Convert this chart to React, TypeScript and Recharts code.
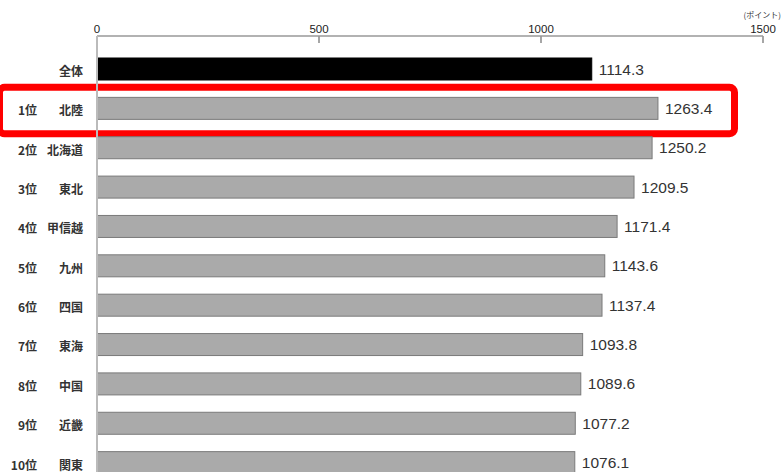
import React from "react";
import { BarChart, Bar, XAxis, YAxis, LabelList } from "recharts";

const REGIONS = ["全体", "北陸", "北海道", "東北", "甲信越", "九州", "四国", "東海", "中国", "近畿", "関東"];
const RANKS = ["", "1位", "2位", "3位", "4位", "5位", "6位", "7位", "8位", "9位", "10位"];
const SCORES = [1114.3, 1263.4, 1250.2, 1209.5, 1171.4, 1143.6, 1137.4, 1093.8, 1089.6, 1077.2, 1076.1];
const X_TICKS = [0, 500, 1000, 1500];
const UNIT = "(ポイント)";
const HIGHLIGHT_REGION = "北陸";

const data = REGIONS.map((name, i) => ({ name, rank: RANKS[i], score: SCORES[i] }));

const JP_FONT = '"Noto Sans CJK JP", "Noto Sans", sans-serif';
const NUM_FONT = '"Liberation Sans", Arial, sans-serif';
const AXIS_Y = 36;

function TopTick(props: any) {
  const { x, y, payload } = props;
  return (
    <text x={x} y={y - 3} textAnchor="middle" fontSize={11.5} fill="#222" fontFamily={NUM_FONT}>
      {payload.value}
    </text>
  );
}

function RegionTick(props: any) {
  const { x, y, payload } = props;
  const rank = RANKS[REGIONS.indexOf(payload.value)];
  return (
    <g fontFamily={JP_FONT} fontSize={12} fontWeight={700} fill="#333">
      {rank && (
        <text x={37} y={y + 3} dy="0.35em" textAnchor="end">
          {rank}
        </text>
      )}
      <text x={x} y={y + 3} dy="0.35em" textAnchor="end">
        {payload.value}
      </text>
    </g>
  );
}

function ScoreBar(props: any) {
  const { x, y, width, height, payload } = props;
  const total = payload.name === "全体";
  const mid = y + height / 2;
  // the total bar carries the scale (px per point), used for the inward axis ticks
  const pxPerUnit = width / payload.score;
  return (
    <g>
      {total &&
        X_TICKS.map((t) => (
          <line
            key={t}
            x1={x + t * pxPerUnit}
            x2={x + t * pxPerUnit}
            y1={AXIS_Y}
            y2={AXIS_Y + 7}
            stroke="#888"
            strokeWidth={1.5}
          />
        ))}
      {payload.name === HIGHLIGHT_REGION && (
        <rect x={-0.5} y={mid - 21} width={735} height={46.5} rx={5} fill="none" stroke="#ff0000" strokeWidth={7} />
      )}
      <rect
        x={x}
        y={y}
        width={width}
        height={height}
        fill={total ? "#000000" : "#aaaaaa"}
        stroke={total ? "#000000" : "#7a7a7a"}
        strokeWidth={1}
      />
    </g>
  );
}

function UnitLabel(props: any) {
  const { viewBox } = props;
  return (
    <text
      x={viewBox.x + viewBox.width + 18}
      y={viewBox.y + 2}
      textAnchor="end"
      fontSize={8}
      fill="#333"
      fontFamily={JP_FONT}
    >
      {UNIT}
    </text>
  );
}

export default function App() {
  return (
    <div
      style={{
        position: "absolute",
        left: 0,
        top: 0,
        width: 782,
        height: 472,
        overflow: "hidden",
        background: "#fff",
      }}
    >
      <BarChart
        width={782}
        height={500}
        data={data}
        layout="vertical"
        margin={{ top: 16, right: 19, left: 0, bottom: 5 }}
      >
        <XAxis
          type="number"
          orientation="top"
          domain={[0, 1500]}
          ticks={X_TICKS}
          height={20}
          tickSize={0}
          tickMargin={0}
          tickLine={false}
          axisLine={{ stroke: "#999", strokeWidth: 1.5 }}
          tick={<TopTick />}
          label={{ content: <UnitLabel /> }}
        />
        <YAxis
          type="category"
          dataKey="name"
          width={97}
          padding={{ top: 13, bottom: 13 }}
          tickLine={false}
          tickMargin={8}
          axisLine={{ stroke: "#bbb", strokeWidth: 2 }}
          tick={<RegionTick />}
          interval={0}
        />
        <Bar dataKey="score" barSize={22} shape={<ScoreBar />} isAnimationActive={false}>
          <LabelList
            dataKey="score"
            position="right"
            offset={7}
            fontSize={15.5}
            fill="#333"
            fontFamily={NUM_FONT}
            formatter={(v: any) => Number(v).toFixed(1)}
          />
        </Bar>
      </BarChart>
    </div>
  );
}
